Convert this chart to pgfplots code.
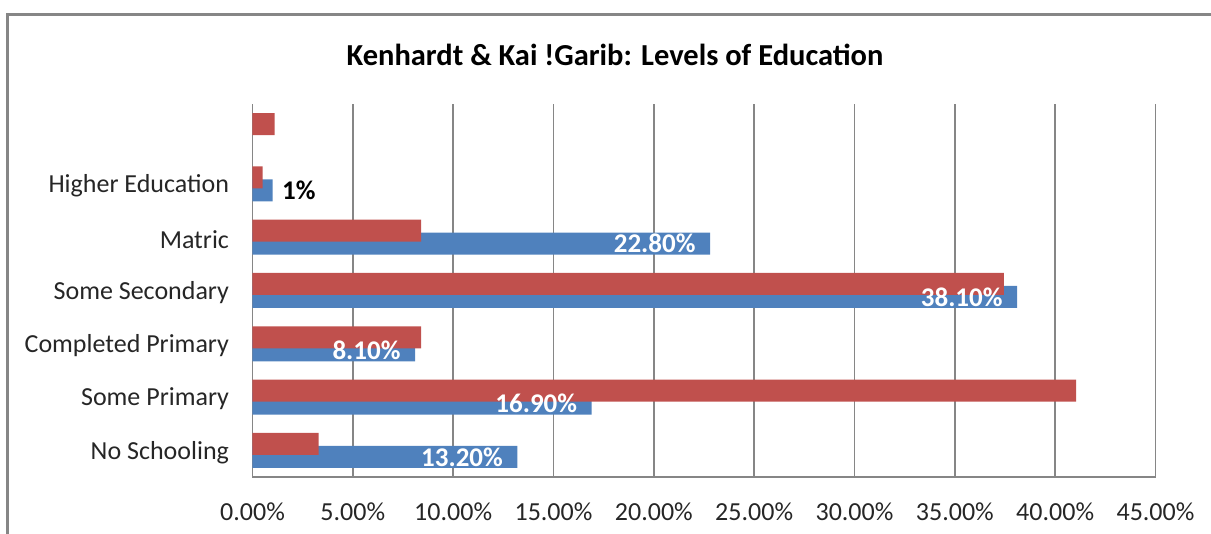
\documentclass[border=0pt]{standalone}
\usepackage{pgfplots}
\pgfplotsset{compat=1.18}
\usepackage{fontspec}
\setmainfont{Carlito}
\definecolor{cred}{HTML}{C0504D}
\definecolor{cblue}{HTML}{4F81BD}
\definecolor{cgrid}{HTML}{868686}
\begin{document}
\begin{tikzpicture}[x=1pt,y=1pt]
\useasboundingbox (0,0) rectangle (1211,534);
\draw[cgrid, line width=3pt] (7,-20) -- (7,519) -- (1240,519);
\node[font=\fontsize{30.5}{36}\selectfont\bfseries] at (615,479) {Kenhardt \& Kai !Garib: Levels of Education};
\begin{axis}[
  at={(252.5pt,57pt)}, anchor=south west,
  scale only axis, width=903pt, height=373pt,
  xmin=0, xmax=45, ymin=-0.5, ymax=6.5,
  xbar, bar width=22pt,
  axis lines*=left, axis line style={cgrid, line width=1.5pt, -},
  xmajorgrids, grid style={cgrid, line width=1.5pt},
  xtick={0,5,...,45}, ytick={0,...,6},
  yticklabels={No Schooling, Some Primary, Completed Primary, Some Secondary, Matric, Higher Education, {}},
  major tick length=0pt,
  tick label style={font=\fontsize{26}{31}\selectfont, text=black!85},
  /pgf/number format/assume math mode=true,
  xticklabel={\pgfmathprintnumber[fixed,zerofill,precision=2]{\tick}\%},
  xticklabel style={yshift=-22pt},
  yticklabel style={xshift=-20pt, yshift=-2pt},
]
% blue series
\addplot[fill=cblue, draw=none, bar shift=-6.5pt] coordinates {(13.2,0) (16.9,1) (8.1,2) (38.1,3) (22.8,4) (1.0,5)};
% red series
\addplot[fill=cred, draw=none, bar shift=6.5pt] coordinates {(3.3,0) (41.05,1) (8.4,2) (37.45,3) (8.4,4) (0.5,5) (1.1,6)};
% labels for blue series (drawn on top)
\addplot[draw=none, fill=none, bar shift=-6.5pt, point meta=x,
  nodes near coords={\pgfmathprintnumber[fixed,zerofill,precision=2]{\pgfplotspointmeta}\%},
  every node near coord/.append style={anchor=east, xshift=-11pt, text=white, font=\fontsize{27}{32}\selectfont\bfseries}]
  coordinates {(13.2,0) (16.9,1) (8.1,2) (38.1,3) (22.8,4)};
\addplot[draw=none, fill=none, bar shift=-6.5pt,
  nodes near coords={1\%},
  every node near coord/.append style={anchor=west, xshift=6pt, text=black, font=\fontsize{27}{32}\selectfont\bfseries}]
  coordinates {(1.0,5)};
\end{axis}
\end{tikzpicture}
\end{document}
